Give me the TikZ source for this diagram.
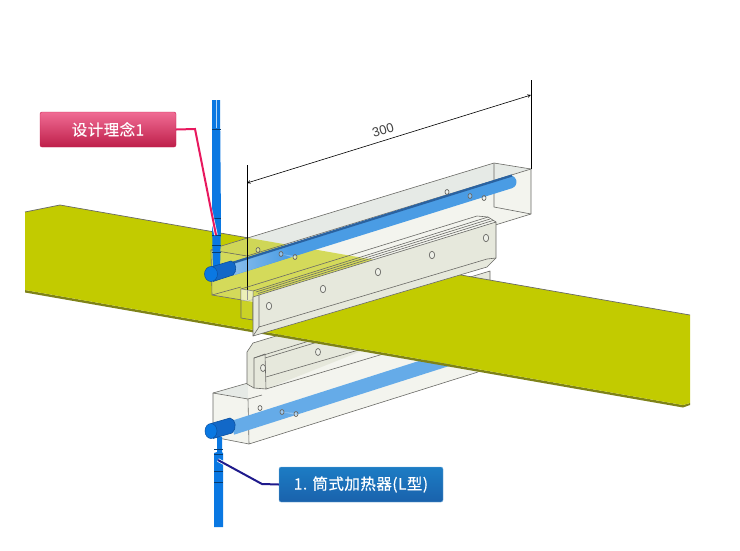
\documentclass[tikz,border=0pt]{standalone}
\usepackage{fontspec}
\usepackage{xcolor}
\setmainfont{Liberation Sans}
\newfontfamily\cjk[LetterSpace=3,FakeBold=0.35]{Noto Sans CJK SC}
\definecolor{boardyellow}{HTML}{C2CB00}
\definecolor{boardedge}{HTML}{7E8218}
\definecolor{tubeblue}{HTML}{4A9CE4}
\definecolor{tubelight}{HTML}{86BCEC}
\definecolor{tubedark}{HTML}{2A62A0}
\definecolor{pipeblue}{HTML}{0A78E2}
\definecolor{headblue}{HTML}{1268C8}
\definecolor{headdark}{HTML}{0B4F9E}
\definecolor{railfill}{HTML}{E6E8DC}
\definecolor{boxtop}{HTML}{E6EAE6}
\definecolor{boxfront}{HTML}{F3F4EE}
\definecolor{edgegrey}{HTML}{6A6A66}
\definecolor{pinktop}{HTML}{F06C94}
\definecolor{pinkbottom}{HTML}{BE1F4A}
\definecolor{pinkline}{HTML}{E8185E}
\definecolor{bluetop}{HTML}{1C7CC4}
\definecolor{bluebottom}{HTML}{1A62AC}
\definecolor{blueline}{HTML}{1F1A8C}
\tikzset{
  boxline/.style={draw=edgegrey, line width=0.6pt, line join=round},
  hole/.style={draw=edgegrey, line width=0.7pt, fill=white, fill opacity=0.35},
  pinklabel/.style={draw=pinkbottom!70!pinkline, rounded corners=2pt, minimum width=136pt, minimum height=35pt, inner sep=0pt,
    top color=pinktop, bottom color=pinkbottom, text=white},
  bluelabel/.style={draw=bluetop!60!white, rounded corners=2pt, minimum width=164pt, minimum height=35pt, inner sep=0pt,
    top color=bluetop, bottom color=bluebottom, text=white},
}
\begin{document}
\begin{tikzpicture}[x=1pt,y=-1pt]
\useasboundingbox (0,0) rectangle (740,550);
% Lower box
\fill[boxtop] (213,393) -- (248,383) -- (300,368) -- (335,374) -- (248,399) -- cycle;
\fill[boxfront] (248,399) -- (248,375) -- (478,310) -- (478,372) -- (249,444) -- cycle;
\fill[boxfront] (213,393) -- (248,399) -- (249,444) -- (213,437) -- cycle;
\draw[boxline] (213,437) -- (213,393) -- (248,383);
\draw[boxline] (213,393) -- (248,399) -- (249,444) -- (478,372);
\draw[boxline] (213,437) -- (249,444);
\draw[boxline] (248,399) -- (262,395);
% Lower tube
\draw[line width=14pt, tubeblue!85!white] (232,428) -- (470,352);
\fill[white, opacity=0.3] (282,412) -- (296,413) -- (296,415) -- cycle;
\foreach \hx/\hy in {260/408, 282/412, 296/414} \draw[hole] (\hx,\hy) ellipse (2pt and 2.5pt);

% Lower rail
\fill[railfill] (247,352) -- (253,343) -- (490,271) -- (490,300) -- (266,389) -- (254,388) -- (247,384) -- cycle;
\draw[boxline] (254,388) -- (247,384) -- (247,352) -- (253,343) -- (490,271) -- (490,283);
\draw[boxline] (254,358) -- (254,388) -- (266,389) -- (265,354) -- cycle;
\draw[boxline] (265,358) -- (400,317);
\draw[boxline] (254,358) -- (400,313);
\draw[boxline] (266,377) -- (400,338);
\draw[boxline] (266,389) -- (400,349);
\foreach \hx/\hy in {318/352, 263/368} \draw[hole] (\hx,\hy) ellipse (2.5pt and 3.5pt);

% Board
\fill[boardedge] (25,290) -- (683,405) -- (690,403) -- (690,405) -- (683,407.5) -- (25,292.5) -- cycle;
\fill[boardyellow] (25,212) -- (60,205) -- (690,315) -- (690,403) -- (683,405) -- (25,290) -- cycle;
\draw[edgegrey, line width=0.7pt] (25,212) -- (60,205) -- (690,315);

% Upper box
\fill[boxtop] (218,247) -- (494,163) -- (531,169) -- (247,256) -- (211,250) -- cycle;
\fill[boxfront] (247,256) -- (531,169) -- (531,214) -- (248,301) -- cycle;
\fill[boxfront] (211,250) -- (247,256) -- (248,301) -- (212,295) -- cycle;
\begin{scope}
\clip (211,250) -- (218,247) -- (494,163) -- (531,169) -- (531,214) -- (248,301) -- (212,295) -- cycle;
\fill[boardyellow, opacity=0.62] (25,212) -- (60,205) -- (690,315) -- (690,403) -- (683,405) -- (25,290) -- cycle;
\end{scope}
\draw[boxline] (212,295) -- (211,250) -- (218,247) -- (494,163) -- (531,169) -- (531,214) -- (248,301) -- (212,295);
\draw[boxline] (211,250) -- (247,256) -- (531,169);
\draw[boxline] (494,163) -- (494,207) -- (531,214);
\draw[boxline] (212,295) -- (241,287);
% Upper tube
\draw[line width=13pt, tubeblue, line cap=round] (232,269) -- (510,182);
\draw[line width=2.2pt, tubedark] (232,263) -- (512,175.5);
\shade[left color=tubelight, right color=tubeblue] (234,264) -- (290,246.5) -- (290,257.5) -- (234,275) -- cycle;
\fill[white, opacity=0.3] (281,254) -- (295,256) -- (295,258) -- cycle;
\foreach \hx/\hy in {258/250, 281/254, 295/257, 447/192, 470/196, 484/198} \draw[hole] (\hx,\hy) ellipse (2pt and 2.5pt);

% Dimension
\draw[black, line width=0.7pt] (247,165) -- (247,300);
\draw[black, line width=0.7pt] (531,80) -- (531,169);
\draw[<->, >=stealth, line width=0.6pt] (247,183) -- (531,95);
\node[rotate=17, font=\fontsize{13}{13}\selectfont, text=black!75] (dimtext) at (383,130) {300};

% Upper rail
\fill[white, fill opacity=0.15] (241,289) -- (253,291) -- (253,320) -- (241,318) -- cycle;
\draw[boxline] (241,289) -- (253,291) -- (253,320) -- (241,318) -- cycle;
\fill[white, fill opacity=0.5] (241,289) -- (253,291) -- (253,302) -- (241,300) -- cycle;
\draw[boxline] (241,289) -- (477,216) -- (488,217) -- (496,222);
\draw[boxline] (253,291) -- (488,217);
\draw[boxline] (256,292) -- (490,219);
\fill[railfill] (253,297) -- (259,295) -- (496,222) -- (496,258) -- (487,267) -- (253,336) -- cycle;
\draw[boxline] (253,336) -- (253,297) -- (259,295) -- (496,222) -- (496,258) -- (487,267) -- cycle;
\draw[boxline] (259,295) -- (259,327) -- (487,259) -- (496,258);
\draw[boxline] (253,336) -- (259,327);
\draw[boxline] (258,293.5) -- (493,220.5);
\foreach \hx/\hy in {269/306, 323/289, 378/272, 432/255, 486/238} \draw[hole] (\hx,\hy) ellipse (2.7pt and 3.7pt);

% Upper pipe and heater head
\fill[pipeblue] (212,100) -- (220,100) -- (221,225) -- (220,272) -- (213,272) -- (212,225) -- cycle;
\draw[white!70!pipeblue, line width=0.8pt] (216,100) -- (216,128);
\foreach \hy in {129, 218, 235, 245, 252} \draw[black!50!pipeblue, line width=0.7pt] (212,\hy) -- (221,\hy);
\fill[headblue] (211,267) -- (231,261) .. controls (237,262) and (237,272) .. (233,275) -- (213,281.5) -- cycle;
\draw[headdark, line width=0.6pt] (211,267) -- (231,261) .. controls (237,262) and (237,272) .. (233,275) -- (213,281.5);
\fill[pipeblue] (211,274) ellipse (6.5pt and 7.5pt);
\draw[headdark, line width=0.5pt] (211,274) ellipse (6.5pt and 7.5pt);

% Lower pipe and heater head
\fill[pipeblue] (217,437) -- (222,437) -- (222,452) -- (223,453) -- (223,527) -- (214,527) -- (214,453) -- (217,452) -- cycle;
\foreach \hy in {449, 454, 471, 482} \draw[black!50!pipeblue, line width=0.7pt] (214,\hy) -- (223,\hy);
\fill[headblue] (211,423.5) -- (230,418) .. controls (236,419) and (237,429) .. (232,433) -- (213,438.5) -- cycle;
\draw[headdark, line width=0.6pt] (211,423.5) -- (230,418) .. controls (236,419) and (237,429) .. (232,433) -- (213,438.5);
\fill[pipeblue] (211,431) ellipse (6pt and 7.5pt);
\draw[headdark, line width=0.5pt] (211,431) ellipse (6pt and 7.5pt);

% Labels
\node[pinklabel, font=\cjk\fontsize{15.5}{15.5}\selectfont] (designlabel) at (108,129.5) {设计理念1};
\node[bluelabel, font=\cjk\fontsize{15.5}{15.5}\selectfont] (heaterlabel) at (361,484.5) {1. 筒式加热器(L型)};
\coordinate (designend) at (216,235);
\coordinate (heaterend) at (218,460);
\draw[white, line width=3.5pt] (205,185) -- (designend);
\draw[white, line width=3.5pt] (240,472) -- (heaterend);
\draw[pinkline, line width=2pt] (designlabel.east) -- (195,129) -- (designend);
\draw[blueline, line width=2pt] (heaterlabel.west) -- (262,484) -- (heaterend);
\end{tikzpicture}
\end{document}
